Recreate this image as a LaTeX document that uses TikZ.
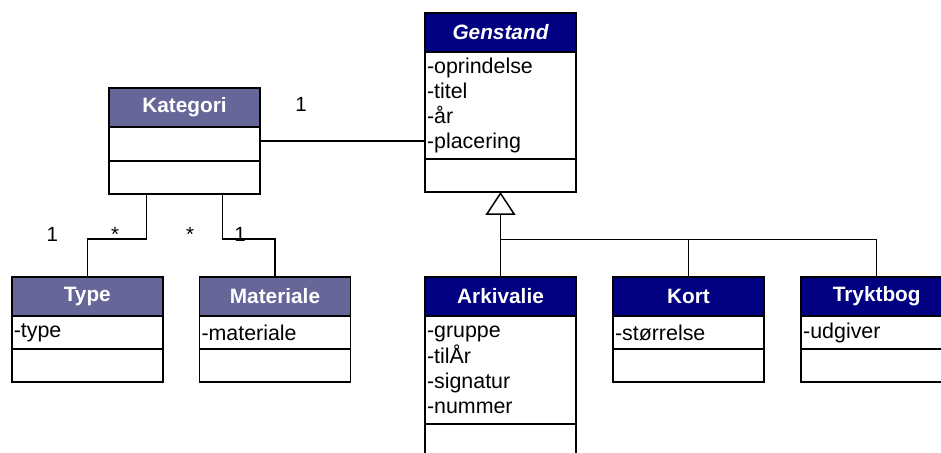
\documentclass[tikz,border=0pt]{standalone}
\usepackage{fontspec}
\setmainfont{Liberation Sans}
\usetikzlibrary{arrows.meta}

\definecolor{navyhead}{RGB}{0,0,128}
\definecolor{slatehead}{RGB}{102,102,153}

\tikzset{
  compartment/.style={draw=black, line width=1.8bp, rectangle, inner sep=0bp,
    outer sep=0bp, minimum width=151bp, anchor=north},
  head/.style={compartment, fill=#1, minimum height=39bp, text=white,
    font=\fontsize{20.8bp}{24bp}\selectfont\bfseries},
  attrs/.style={compartment, fill=white, minimum height=#1, inner xsep=2bp,
    text width=147bp, align=left, font=\fontsize{21.4bp}{25.3bp}\selectfont},
  ops/.style={compartment, fill=white, minimum height=33bp},
  conn/.style={draw=black, line width=1.2bp},
  mult/.style={anchor=base, inner sep=0bp, font=\fontsize{20.5bp}{24bp}\selectfont},
}

\begin{document}
\begin{tikzpicture}[x=1bp, y=-1bp]
\useasboundingbox (0,0) rectangle (941,453);
\clip (0,0) rectangle (941,453);

% Genstand (abstract superclass)
\node[head=navyhead] (gen-h) at (500.5,13) {\itshape Genstand};
\node[attrs=107bp] (gen-a) at (gen-h.south) {-oprindelse\\-titel\\-år\\-placering};
\node[ops] (gen-m) at (gen-a.south) {};

% Kategori
\node[head=slatehead] (kat-h) at (184.5,88) {Kategori};
\node[attrs=34bp] (kat-a) at (kat-h.south) {};
\node[ops] (kat-m) at (kat-a.south) {};

% Type
\node[head=slatehead] (type-h) at (87.3,277) {Type};
\node[attrs=33bp] (type-a) at (type-h.south) {-type};
\node[ops] (type-m) at (type-a.south) {};

% Materiale
\node[head=slatehead] (mat-h) at (275,277) {Materiale};
\node[attrs=33bp] (mat-a) at (mat-h.south) {-materiale};
\node[ops] (mat-m) at (mat-a.south) {};

% Arkivalie
\node[head=navyhead] (ark-h) at (500.5,277) {Arkivalie};
\node[attrs=108bp] (ark-a) at (ark-h.south) {-gruppe\\-tilÅr\\-signatur\\-nummer};
\node[ops] (ark-m) at (ark-a.south) {};

% Kort
\node[head=navyhead] (kort-h) at (688.5,277) {Kort};
\node[attrs=33bp] (kort-a) at (kort-h.south) {-størrelse};
\node[ops] (kort-m) at (kort-a.south) {};

% Tryktbog
\node[head=navyhead] (tryk-h) at (876.7,277) {Tryktbog};
\node[attrs=33bp] (tryk-a) at (tryk-h.south) {-udgiver};
\node[ops] (tryk-m) at (tryk-a.south) {};

% association Kategori -- Genstand
\draw[conn] (kat-a.east |- 0,141) -- (gen-a.west |- 0,141);
\node[mult] (m-kg) at (301,112) {1};

% associations Kategori -- Type / Materiale
\draw[conn] ([xshift=37.6bp]kat-m.south west) -- ++(0,45) -| (type-h.north);
\draw[conn] ([xshift=-37.6bp]kat-m.south east) -- ++(0,45) -| (mat-h.north);
\node[mult] (m-t1) at (52.3,242) {1};
\node[mult] (m-t2) at (115,242) {*};
\node[mult] (m-m1) at (190,242) {*};
\node[mult] (m-m2) at (240,242) {1};

% generalization
\draw[conn, -{Triangle[open, length=23bp, width=30bp, line width=1.5bp]}]
  (ark-h.north) -- (gen-m.south);
\draw[conn] (ark-h.north |- 0,239.3) -- (tryk-h.north |- 0,239.3) -- (tryk-h.north);
\draw[conn] (kort-h.north |- 0,239.3) -- (kort-h.north);
\end{tikzpicture}
\end{document}
